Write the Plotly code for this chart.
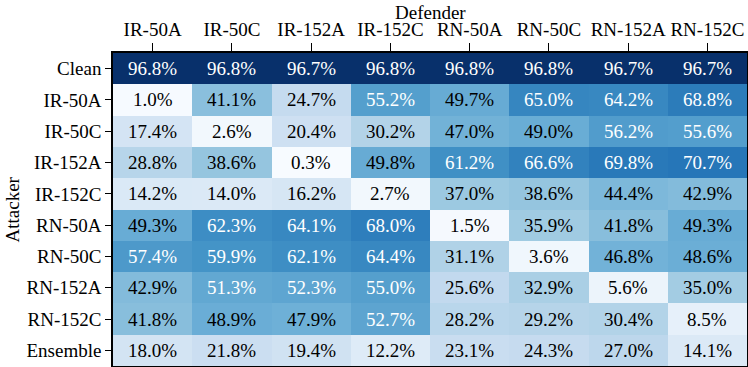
import plotly.graph_objects as go

defenders = ["IR-50A", "IR-50C", "IR-152A", "IR-152C", "RN-50A", "RN-50C", "RN-152A", "RN-152C"]
attackers = ["Clean", "IR-50A", "IR-50C", "IR-152A", "IR-152C", "RN-50A", "RN-50C", "RN-152A", "RN-152C", "Ensemble"]

clean = [96.8, 96.8, 96.7, 96.8, 96.8, 96.8, 96.7, 96.7]
ir50a = [1.0, 41.1, 24.7, 55.2, 49.7, 65.0, 64.2, 68.8]
ir50c = [17.4, 2.6, 20.4, 30.2, 47.0, 49.0, 56.2, 55.6]
ir152a = [28.8, 38.6, 0.3, 49.8, 61.2, 66.6, 69.8, 70.7]
ir152c = [14.2, 14.0, 16.2, 2.7, 37.0, 38.6, 44.4, 42.9]
rn50a = [49.3, 62.3, 64.1, 68.0, 1.5, 35.9, 41.8, 49.3]
rn50c = [57.4, 59.9, 62.1, 64.4, 31.1, 3.6, 46.8, 48.6]
rn152a = [42.9, 51.3, 52.3, 55.0, 25.6, 32.9, 5.6, 35.0]
rn152c = [41.8, 48.9, 47.9, 52.7, 28.2, 29.2, 30.4, 8.5]
ensemble = [18.0, 21.8, 19.4, 12.2, 23.1, 24.3, 27.0, 14.1]

z = [clean, ir50a, ir50c, ir152a, ir152c, rn50a, rn50c, rn152a, rn152c, ensemble]

# matplotlib "Blues"
blues = ["#f7fbff", "#deebf7", "#c6dbef", "#9ecae1", "#6baed6",
         "#4292c6", "#2171b5", "#08519c", "#08306b"]
colorscale = [[i / (len(blues) - 1), c] for i, c in enumerate(blues)]

flat = [v for row in z for v in row]
zmin, zmax = min(flat), max(flat)

fig = go.Figure(go.Heatmap(
    z=z, x=defenders, y=attackers,
    colorscale=colorscale, zmin=zmin, zmax=zmax,
    showscale=False, xgap=0, ygap=0,
))

# cell labels, white on dark cells
for att, row in zip(attackers, z):
    for dfd, v in zip(defenders, row):
        fig.add_annotation(
            x=dfd, y=att, text=f"{v:.1f}%", showarrow=False,
            font=dict(size=19, color="white" if v > 50 else "black"),
        )

# axis titles as annotations so they sit where the reference has them
fig.add_annotation(xref="paper", yref="paper", x=0.5, y=1, yshift=41,
                   yanchor="middle", text="Defender", showarrow=False)
fig.add_annotation(xref="paper", yref="paper", x=0, y=0.5, xshift=-101,
                   xanchor="center", text="Attacker", textangle=-90, showarrow=False)

font = "Liberation Serif"
fig.update_layout(
    width=748, height=367,
    margin=dict(l=113, r=1, t=53, b=1),
    paper_bgcolor="white", plot_bgcolor="white",
    font=dict(family=font, size=19, color="black"),
)
fig.update_xaxes(
    side="top", ticks="outside", ticklen=8, tickcolor="black",
    showline=True, linecolor="black", linewidth=1.5, mirror=True,
    tickfont=dict(size=19), showgrid=False, automargin=False,
)
fig.update_yaxes(
    autorange="reversed", ticks="outside", ticklen=6, tickcolor="black",
    showline=True, linecolor="black", linewidth=1.5, mirror=True,
    tickfont=dict(size=19), showgrid=False, automargin=False,
)

# drop the browser's default 8px body margin so the figure fills the window
fig.write_html("out.html", config={"displayModeBar": False},
               post_script="document.body.style.margin='0';")
